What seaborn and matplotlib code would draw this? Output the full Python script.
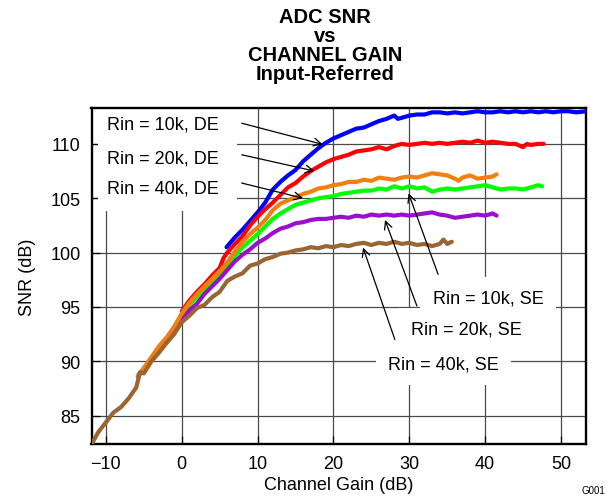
import pandas as pd
import matplotlib.pyplot as plt
import seaborn as sns
from matplotlib.patches import Rectangle

# Curvas (ganho em dB, SNR em dB)
gain_blue = [5.9, 7, 8, 9, 10, 11, 12, 13, 14, 15, 16, 17, 18, 19, 20, 21, 22, 23, 24, 25, 26, 27,
             28, 28.5, 29, 30, 31, 32, 33, 34, 35, 36, 37, 38, 39, 40, 41, 42, 43, 44, 45, 46, 47,
             48, 49, 50, 51, 52, 53.4]
snr_blue = [100.5, 101.4, 102.1, 102.9, 103.7, 104.6, 105.8, 106.5, 107.1, 107.6, 108.4, 109.0,
            109.6, 110.1, 110.5, 110.8, 111.1, 111.4, 111.5, 111.8, 112.1, 112.3, 112.6, 112.3,
            112.4, 112.6, 112.7, 112.7, 112.9, 112.9, 112.8, 112.9, 112.8, 112.9, 113.0, 112.9,
            112.9, 113.0, 112.9, 113.0, 112.9, 113.0, 112.9, 113.0, 112.9, 113.0, 113.0, 112.9, 113.0]

gain_red = [0, 1, 2, 3, 4, 5, 5.5, 6, 7, 8, 9, 10, 11, 12, 13, 14, 15, 16, 17, 18, 19, 20, 21, 22,
            23, 24, 25, 26, 27, 28, 29, 30, 31, 32, 33, 34, 35, 36, 37, 38, 39, 40, 41, 42, 43, 44,
            45, 45.5, 46, 47, 47.7]
snr_red = [94.6, 95.6, 96.4, 97.1, 97.9, 98.6, 99.5, 100.0, 100.8, 101.5, 102.5, 103.3, 104.0,
           104.6, 105.3, 106.0, 106.4, 107.0, 107.5, 107.9, 108.3, 108.6, 108.8, 109.0, 109.3,
           109.4, 109.5, 109.7, 109.5, 109.8, 110.0, 109.9, 110.0, 110.1, 110.0, 110.1, 110.0,
           110.1, 110.2, 110.1, 110.3, 110.1, 110.2, 110.1, 110.0, 110.0, 109.7, 110.0, 109.9,
           110.0, 110.0]

gain_green = [0, 1, 2, 3, 4, 5, 6, 7, 8, 9, 10, 11, 12, 13, 14, 15, 16, 17, 18, 19, 20, 21, 22, 23,
              24, 25, 26, 27, 28, 29, 30, 31, 32, 33, 34, 35, 36, 37, 38, 39, 40, 41, 42, 43, 44,
              45, 46, 47, 47.5]
snr_green = [94.3, 95.2, 95.9, 96.6, 97.3, 98.0, 98.7, 99.7, 100.5, 101.1, 101.7, 102.4, 103.1,
             103.6, 104.0, 104.4, 104.6, 104.8, 105.0, 105.1, 105.2, 105.4, 105.5, 105.6, 105.7,
             105.7, 105.9, 105.8, 106.1, 105.9, 106.1, 105.9, 106.0, 105.6, 105.8, 105.9, 105.8,
             105.9, 106.0, 106.1, 106.2, 106.0, 105.8, 105.9, 105.9, 105.8, 106.0, 106.2, 106.1]

gain_purple = [-5.8, -5, -4, -3, -2, -1, 0, 1, 2, 3, 4, 5, 6, 7, 8, 9, 10, 11, 12, 13, 14, 15, 16,
               17, 18, 19, 20, 21, 22, 23, 24, 25, 26, 27, 28, 29, 30, 31, 32, 33, 34, 35, 36, 37,
               38, 39, 40, 41, 41.5]
snr_purple = [88.6, 89.3, 90.2, 91.1, 91.9, 92.8, 93.8, 94.7, 95.3, 96.2, 96.9, 97.6, 98.4, 99.2,
              99.8, 100.3, 100.9, 101.3, 101.8, 102.2, 102.4, 102.7, 102.8, 103.0, 103.1, 103.1,
              103.2, 103.3, 103.2, 103.4, 103.3, 103.5, 103.4, 103.5, 103.4, 103.5, 103.4, 103.5,
              103.6, 103.7, 103.5, 103.4, 103.2, 103.3, 103.4, 103.5, 103.4, 103.6, 103.4]

gain_orange = [-5.8, -5, -4, -3, -2, -1, 0, 1, 2, 3, 4, 5, 6, 7, 8, 9, 10, 11, 12, 13, 14, 15, 16,
               17, 18, 19, 20, 21, 22, 23, 24, 25, 26, 27, 28, 29, 30, 31, 32, 33, 34, 35, 36,
               36.5, 37, 38, 39, 40, 41, 41.5]
snr_orange = [88.7, 89.4, 90.4, 91.4, 92.2, 93.2, 94.4, 95.4, 96.2, 96.9, 97.6, 98.3, 99.1, 100.1,
              101.0, 101.7, 102.3, 103.0, 103.9, 104.5, 104.8, 105.1, 105.4, 105.6, 105.9, 106.0,
              106.2, 106.3, 106.5, 106.5, 106.7, 106.6, 106.9, 106.8, 106.7, 106.9, 107.0, 106.9,
              107.1, 107.3, 107.2, 107.1, 106.8, 106.6, 106.9, 107.1, 106.8, 106.9, 107.0, 107.2]

gain_brown = [-11.8, -11, -10, -9, -8, -7, -6, -5.5, -5, -4, -3, -2, -1, 0, 1, 2, 3, 4, 5, 6, 7, 8,
              9, 10, 11, 12, 13, 14, 15, 16, 17, 18, 19, 20, 21, 22, 23, 24, 25, 26, 27, 28, 29,
              30, 31, 32, 33, 34, 34.5, 35, 35.6]
snr_brown = [82.5, 83.5, 84.4, 85.3, 85.8, 86.6, 87.6, 89.0, 88.9, 90.0, 90.8, 91.7, 92.5, 93.6,
             94.2, 94.9, 95.2, 95.9, 96.4, 97.4, 97.8, 98.1, 98.8, 99.0, 99.4, 99.6, 99.9, 100.0,
             100.2, 100.3, 100.5, 100.4, 100.6, 100.5, 100.7, 100.6, 100.8, 100.9, 100.7, 100.9,
             100.8, 101.0, 100.8, 100.9, 100.7, 100.8, 100.6, 100.8, 101.2, 100.8, 101.0]

series = ["10k DE", "20k DE", "40k DE", "10k SE", "20k SE", "40k SE"]
cores = ["#0000FF", "#FF0000", "#00FF00", "#9A0FCF", "#F28010", "#996633"]
dados = [(gain_blue, snr_blue), (gain_red, snr_red), (gain_green, snr_green),
         (gain_purple, snr_purple), (gain_orange, snr_orange), (gain_brown, snr_brown)]

rotulos_de = ["Rin = 10k, DE", "Rin = 20k, DE", "Rin = 40k, DE"]
rotulos_se = ["Rin = 10k, SE", "Rin = 20k, SE", "Rin = 40k, SE"]

linhas = []
for nome, (g, s) in zip(series, dados):
    linhas.append(pd.DataFrame({"gain": g, "snr": s, "serie": nome}))
df = pd.concat(linhas, ignore_index=True)

sns.set_theme(style="white")
plt.rcParams["font.family"] = ["Liberation Sans", "DejaVu Sans"]
plt.rcParams.update({"text.color": "black", "axes.labelcolor": "black",
                     "xtick.color": "black", "ytick.color": "black"})

fig = plt.figure(figsize=(6.10, 5.02), dpi=100)
ax = fig.add_axes([0.150, 0.1135, 0.8107, 0.6694])

sns.lineplot(data=df, x="gain", y="snr", hue="serie", hue_order=series,
             palette=dict(zip(series, cores)), estimator=None, sort=False,
             linewidth=3.0, legend=False, ax=ax, zorder=3)

ax.set_xlim(-11.9, 53.3)
ax.set_ylim(82.4, 113.3)
ax.set_xticks([-10, 0, 10, 20, 30, 40, 50])
ax.set_yticks([85, 90, 95, 100, 105, 110])
ax.grid(True, color="#4a4a4a", linewidth=0.9)
ax.set_axisbelow(True)
for sp in ax.spines.values():
    sp.set_color("black")
    sp.set_linewidth(1.7)
ax.tick_params(axis="both", direction="in", length=5.5, width=0.9, color="black",
               labelsize=13, pad=8, left=True, bottom=True)

ax.set_xlabel("Channel Gain (dB)", fontsize=13, labelpad=3)
ax.set_ylabel("SNR (dB)", fontsize=13, labelpad=10)

# Caixa branca atrás dos rótulos DE
ax.add_patch(Rectangle((-11.1, 103.8), 18.4, 9.5, facecolor="white", edgecolor="none", zorder=1))

pos_de = [(-9.9, 111.8), (-9.9, 108.7), (-9.9, 105.9)]
seta_de = [((7.9, 111.9), (18.6, 109.95)), ((7.9, 109.0), (17.5, 107.5)), ((7.9, 106.4), (16.0, 105.0))]
for txt, (x, y) in zip(rotulos_de, pos_de):
    ax.text(x, y, txt, fontsize=13, va="center", ha="left", zorder=2)

pos_se = [(33.1, 95.8), (30.2, 92.95), (27.2, 89.8)]
seta_se = [((33.8, 98.0), (29.9, 105.45)), ((31.0, 95.1), (26.8, 103.0)), ((28.1, 92.0), (23.9, 100.46))]
for txt, (x, y) in zip(rotulos_se, pos_se):
    ax.text(x, y, txt, fontsize=13, va="center", ha="left", zorder=2,
            bbox=dict(facecolor="white", edgecolor="none", pad=9))

for (cauda, ponta) in seta_de + seta_se:
    ax.annotate("", xy=ponta, xytext=cauda, zorder=4,
                arrowprops=dict(arrowstyle="->", color="black", lw=0.9,
                                mutation_scale=14, shrinkA=0, shrinkB=0))

fig.text(0.533, 1 - 8 / 502, "ADC SNR\nvs\nCHANNEL GAIN\nInput-Referred",
         ha="center", va="top", fontsize=14.5, fontweight="bold", linespacing=1.0)
fig.text(0.993, 0.012, "G001", ha="right", va="bottom", fontsize=7)

fig.savefig("out.png", dpi=100)
